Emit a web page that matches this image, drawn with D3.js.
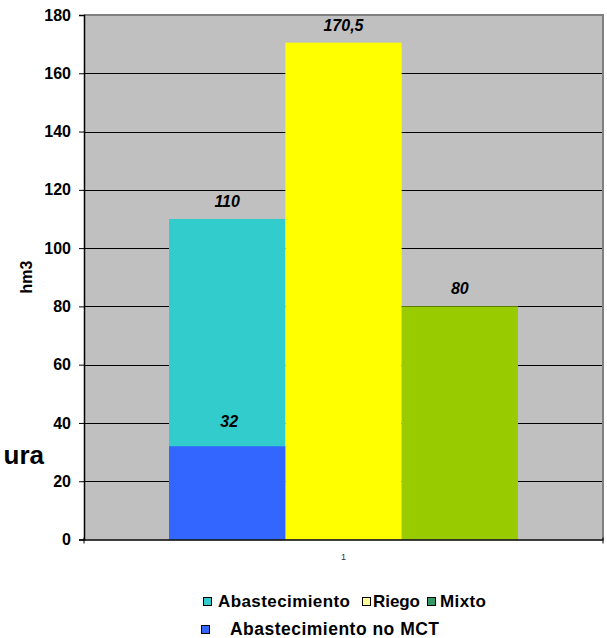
<!DOCTYPE html>
<html>
<head>
<meta charset="utf-8">
<script src="https://cdn.jsdelivr.net/npm/d3@7"></script>
<style>
  html, body { margin: 0; padding: 0; background: #fff; }
  svg { display: block; font-family: "Liberation Sans", Arial, sans-serif; }
</style>
</head>
<body>
<svg id="chart" width="607" height="638"></svg>
<script>
// Volumes by use (hm3)
const categories = ["1"];
const seriesNames = ["Abastecimiento", "Riego", "Mixto"];
const seriesValues = [110, 170.5, 80];
const seriesColors = ["#33CCCC", "#FFFF00", "#99CC00"];
const legendColors = ["#33CCCC", "#FFFF99", "#339966"];
const subName = "Abastecimiento no MCT";
const subValue = 32;
const subColor = "#3366FF";
const subLabel = "32";
const valueLabels = ["110", "170,5", "80"];
const yTicks = [0, 20, 40, 60, 80, 100, 120, 140, 160, 180];

const svg = d3.select("#chart");
const plotL = 84, plotR = 603, plotT = 15, plotB = 539.5;

const y = d3.scaleLinear().domain([0, 180]).range([plotB, plotT]);
const x0 = d3.scaleBand().domain(categories).range([plotL, plotR])
  .paddingInner(0).paddingOuter(0.2436);
const x1 = d3.scaleBand().domain(seriesNames).range([0, x0.bandwidth()]).padding(0);

// plot background
svg.append("rect").attr("x", plotL).attr("y", plotT)
  .attr("width", plotR - plotL).attr("height", plotB - plotT)
  .attr("fill", "#C0C0C0");

// gridlines
svg.append("g").selectAll("line").data(yTicks.filter(t => t > 0 && t < 180)).join("line")
  .attr("x1", plotL).attr("x2", plotR)
  .attr("y1", d => Math.round(y(d)) + 0.5).attr("y2", d => Math.round(y(d)) + 0.5)
  .attr("stroke", "#000").attr("stroke-width", 1);

// frame (top / right)
svg.append("path")
  .attr("d", `M${plotL},${plotT}H${plotR}V${plotB}`)
  .attr("fill", "none").attr("stroke", "#808080").attr("stroke-width", 2);

const g = svg.append("g").attr("transform", `translate(${x0("1")},0)`);

// main bars
g.selectAll("rect.main").data(seriesNames).join("rect")
  .attr("class", "main")
  .attr("x", (d) => x1(d))
  .attr("width", x1.bandwidth())
  .attr("y", (d, i) => y(seriesValues[i]))
  .attr("height", (d, i) => y(0) - y(seriesValues[i]))
  .attr("fill", (d, i) => seriesColors[i]);

// "no MCT" part drawn over the first series
g.append("rect")
  .attr("x", x1("Abastecimiento"))
  .attr("width", x1.bandwidth())
  .attr("y", y(subValue))
  .attr("height", y(0) - y(subValue))
  .attr("fill", subColor);

// value labels
g.selectAll("text.val").data(seriesNames).join("text")
  .attr("class", "val")
  .attr("x", d => x1(d) + x1.bandwidth() / 2)
  .attr("y", (d, i) => y(seriesValues[i]) - 12)
  .attr("text-anchor", "middle")
  .attr("font-size", 16).attr("font-weight", "bold").attr("font-style", "italic")
  .text((d, i) => valueLabels[i]);

g.append("text")
  .attr("x", x1("Abastecimiento") + x1.bandwidth() / 2 + 2)
  .attr("y", y(subValue) - 19)
  .attr("text-anchor", "middle")
  .attr("font-size", 16).attr("font-weight", "bold").attr("font-style", "italic")
  .text(subLabel);

// y axis
const yAxis = d3.axisLeft(y).tickValues(yTicks).tickSize(5).tickPadding(8);
const ya = svg.append("g").attr("transform", `translate(${plotL},0)`).call(yAxis);
ya.select(".domain").attr("stroke", "#000").attr("stroke-width", 1.5);
ya.selectAll(".tick line").attr("stroke", "#000");
ya.selectAll(".tick text").attr("font-size", 16).attr("font-weight", "bold")
  .attr("font-family", "Liberation Sans, Arial, sans-serif").attr("fill", "#000");

// x axis
const xa = svg.append("g").attr("transform", `translate(0,${plotB})`)
  .call(d3.axisBottom(x0).tickSize(0).tickPadding(14));
xa.select(".domain").attr("stroke", "#000").attr("stroke-width", 1.5);
xa.selectAll(".tick text").attr("font-size", 9).attr("fill", "#333")
  .attr("font-family", "Liberation Sans, Arial, sans-serif");
svg.append("g").selectAll("line").data([plotL, plotR]).join("line")
  .attr("x1", d => d).attr("x2", d => d)
  .attr("y1", plotB - 2).attr("y2", plotB + 4)
  .attr("stroke", "#000");

// y axis title
svg.append("text")
  .attr("transform", "translate(32,277) rotate(-90)")
  .attr("text-anchor", "middle")
  .attr("font-size", 16).attr("font-weight", "bold")
  .text("hm3");

// clipped side label
svg.append("text")
  .attr("x", 44).attr("y", 464)
  .attr("text-anchor", "end")
  .attr("font-size", 26).attr("font-weight", "bold")
  .text("ura");

// legend row 1
const legendItems = [
  { name: seriesNames[0], color: legendColors[0], sx: 203, tx: 218, w: 132 },
  { name: seriesNames[1], color: legendColors[1], sx: 362, tx: 373, w: 47 },
  { name: seriesNames[2], color: legendColors[2], sx: 427, tx: 440, w: 46 }
];
const lg = svg.append("g");
lg.selectAll("rect").data(legendItems).join("rect")
  .attr("x", d => d.sx + 0.5).attr("y", 597.5)
  .attr("width", 8).attr("height", 8)
  .attr("fill", d => d.color).attr("stroke", "#000").attr("stroke-width", 1);
lg.selectAll("text").data(legendItems).join("text")
  .attr("x", d => d.tx).attr("y", 607)
  .attr("font-size", 17).attr("font-weight", "bold")
  .attr("textLength", d => d.w).attr("lengthAdjust", "spacing")
  .text(d => d.name);

// legend row 2
svg.append("rect").attr("x", 201.5).attr("y", 625.5)
  .attr("width", 8).attr("height", 8)
  .attr("fill", subColor).attr("stroke", "#000").attr("stroke-width", 1);
svg.append("text").attr("x", 230).attr("y", 635)
  .attr("font-size", 17.5).attr("font-weight", "bold")
  .attr("textLength", 209).attr("lengthAdjust", "spacing")
  .text(subName);
</script>
</body>
</html>
